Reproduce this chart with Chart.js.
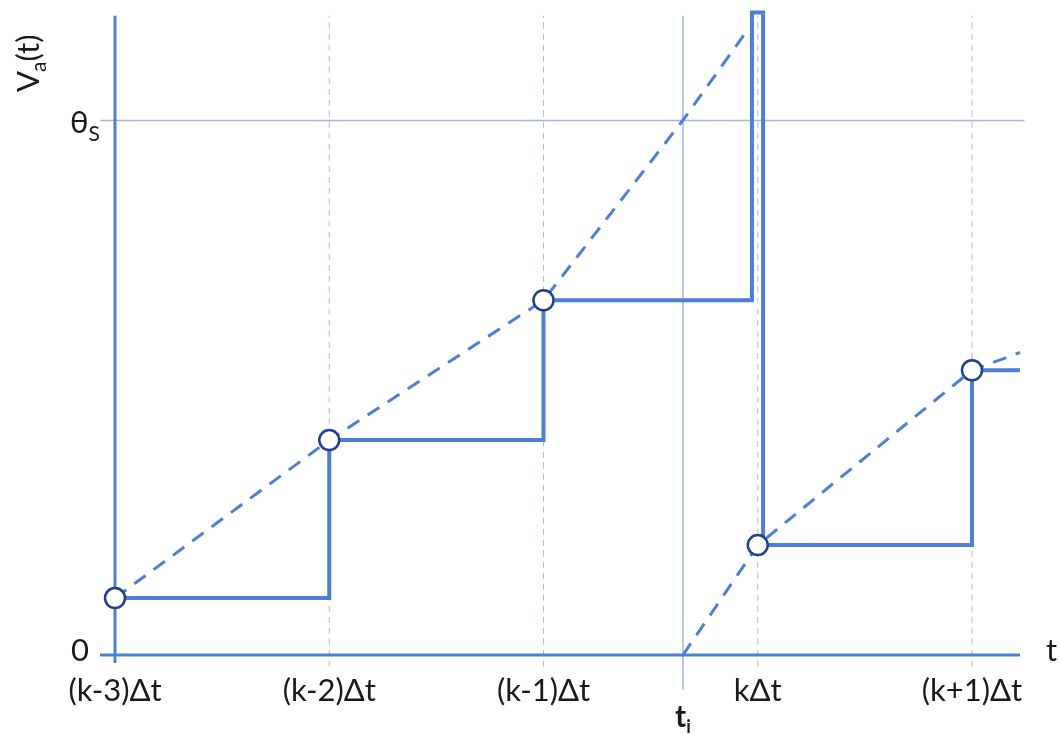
<!DOCTYPE html>
<html>
<head>
<meta charset="utf-8">
<script src="https://cdn.jsdelivr.net/npm/chart.js@4.4.1/dist/chart.umd.min.js"></script>
<style>
  html, body { margin: 0; padding: 0; background: #fff; }
  #wrap { width: 1060px; height: 734px; }
</style>
</head>
<body>
<div id="wrap"><canvas id="myChart" width="1060" height="734"></canvas></div>
<script>
// x in units of Δt, (k-3)Δt = 0 ; y in units of θS
var tickPos = [0, 1, 2, 3, 4];
var tickLabels = ['(k-3)Δt', '(k-2)Δt', '(k-1)Δt', 'kΔt', '(k+1)Δt'];
var thetaS = 1;
var tI = 2.651;

// sampled potential (solid steps)
var stepX = [0, 1, 1, 2, 2, 2.973, 2.973, 3.025, 3.025, 4, 4, 4.224];
var stepY = [0.1065, 0.1065, 0.402, 0.402, 0.6636, 0.6636, 1.202, 1.202, 0.2056, 0.2056, 0.5327, 0.5327];

// sample points (circles)
var sampleX = [0, 1, 2, 3, 4];
var sampleY = [0.1065, 0.402, 0.6636, 0.2056, 0.5327];

// true potential (dashed), before and after the spike
var riseX1 = [0, 1, 2, 2.65, 2.95];
var riseY1 = [0.1065, 0.402, 0.6636, 1.0, 1.168];
var riseX2 = [2.651, 3, 4, 4.224];
var riseY2 = [0, 0.2056, 0.5327, 0.566];

var blue = '#4d7fd4';
var pale = '#9fb5e4';
var gridCol = '#aebbd6';

function pts(xs, ys) {
  var out = [];
  for (var i = 0; i < xs.length; i++) out.push({ x: xs[i], y: ys[i] });
  return out;
}

var datasets = [
  { data: pts(sampleX, sampleY), showLine: false, pointRadius: 10, pointBorderWidth: 2.5,
    pointBackgroundColor: '#fff', pointBorderColor: '#1f3f8f', order: 0 },
  { data: pts(stepX, stepY), showLine: true, borderColor: blue, borderWidth: 4, pointRadius: 0, clip: false, order: 1 },
  { data: pts(riseX1, riseY1), showLine: true, borderColor: blue, borderWidth: 3, borderDash: [14, 10], pointRadius: 0, order: 2 },
  { data: pts(riseX2, riseY2), showLine: true, borderColor: blue, borderWidth: 3, borderDash: [14, 10], pointRadius: 0, clip: false, order: 2 },
  // axes
  { data: pts([-0.07, 4.224], [0, 0]), showLine: true, borderColor: blue, borderWidth: 3, pointRadius: 0, clip: false, order: 3 },
  { data: pts([0, 0], [-0.015, 1.196]), showLine: true, borderColor: blue, borderWidth: 3, pointRadius: 0, clip: false, order: 3 },
  // threshold and ti lines
  { data: pts([-0.07, 4.245], [thetaS, thetaS]), showLine: true, borderColor: pale, borderWidth: 1.5, pointRadius: 0, clip: false, order: 4 },
  { data: pts([tI, tI], [-0.065, 1.196]), showLine: true, borderColor: pale, borderWidth: 1.5, pointRadius: 0, clip: false, order: 4 }
];

// dashed grid lines at the sampling instants
for (var g = 1; g < tickPos.length; g++) {
  datasets.push({ data: pts([tickPos[g], tickPos[g]], [-0.022, 1.196]), showLine: true, borderColor: gridCol,
    borderWidth: 1, borderDash: [6, 5], pointRadius: 0, clip: false, order: 5 });
}

function sub(ctx, main, small, x, y, bigFont, smallFont, drop) {
  ctx.font = bigFont;
  ctx.fillText(main, x, y);
  var w = ctx.measureText(main).width;
  ctx.font = smallFont;
  ctx.fillText(small, x + w, y + drop);
}

var textPlugin = {
  id: 'axisText',
  afterDraw: function (chart) {
    var ctx = chart.ctx, xs = chart.scales.x, ys = chart.scales.y;
    var y0 = ys.getPixelForValue(0);
    ctx.save();
    ctx.fillStyle = '#1a1a1a';
    ctx.textBaseline = 'alphabetic';
    ctx.textAlign = 'center';
    ctx.font = '31px Lato';
    for (var i = 0; i < tickPos.length; i++) {
      ctx.fillText(tickLabels[i], xs.getPixelForValue(tickPos[i]), y0 + 46);
    }
    // 0 and theta_S
    ctx.textAlign = 'left';
    ctx.fillText('0', 71, y0 + 6);
    var yT = ys.getPixelForValue(thetaS);
    sub(ctx, 'θ', 'S', 70, yT + 13, '31px Lato', '21px Lato', 8);
    // t
    ctx.font = '31px Lato';
    ctx.fillText('t', 1046, y0 + 6);
    // t_i
    var tx = xs.getPixelForValue(tI) - 8;
    sub(ctx, 't', 'i', tx, y0 + 72, 'bold 30px Lato', 'bold 18px Lato', 6);
    // V_a(t) rotated
    ctx.translate(39, 92);
    ctx.rotate(-Math.PI / 2);
    ctx.font = '31px Lato';
    ctx.fillText('V', 0, 0);
    var wV = ctx.measureText('V').width;
    ctx.font = '21px Lato';
    ctx.fillText('a', wV - 1, 7);
    var wa = ctx.measureText('a').width;
    ctx.font = '31px Lato';
    ctx.fillText('(t)', wV + wa - 1, 0);
    ctx.restore();
  }
};

var ctx = document.getElementById('myChart').getContext('2d');
var chart = new Chart(ctx, {
  type: 'scatter',
  data: { datasets: datasets },
  options: {
    responsive: false,
    animation: false,
    layout: { padding: { left: 100, right: 40, top: 12, bottom: 79 } },
    plugins: { legend: { display: false }, tooltip: { enabled: false } },
    elements: { line: { tension: 0, fill: false } },
    scales: {
      x: { type: 'linear', display: false, min: -0.07, max: 4.224 },
      y: { type: 'linear', display: false, min: 0, max: 1.202 }
    }
  },
  plugins: [textPlugin]
});
</script>
</body>
</html>
